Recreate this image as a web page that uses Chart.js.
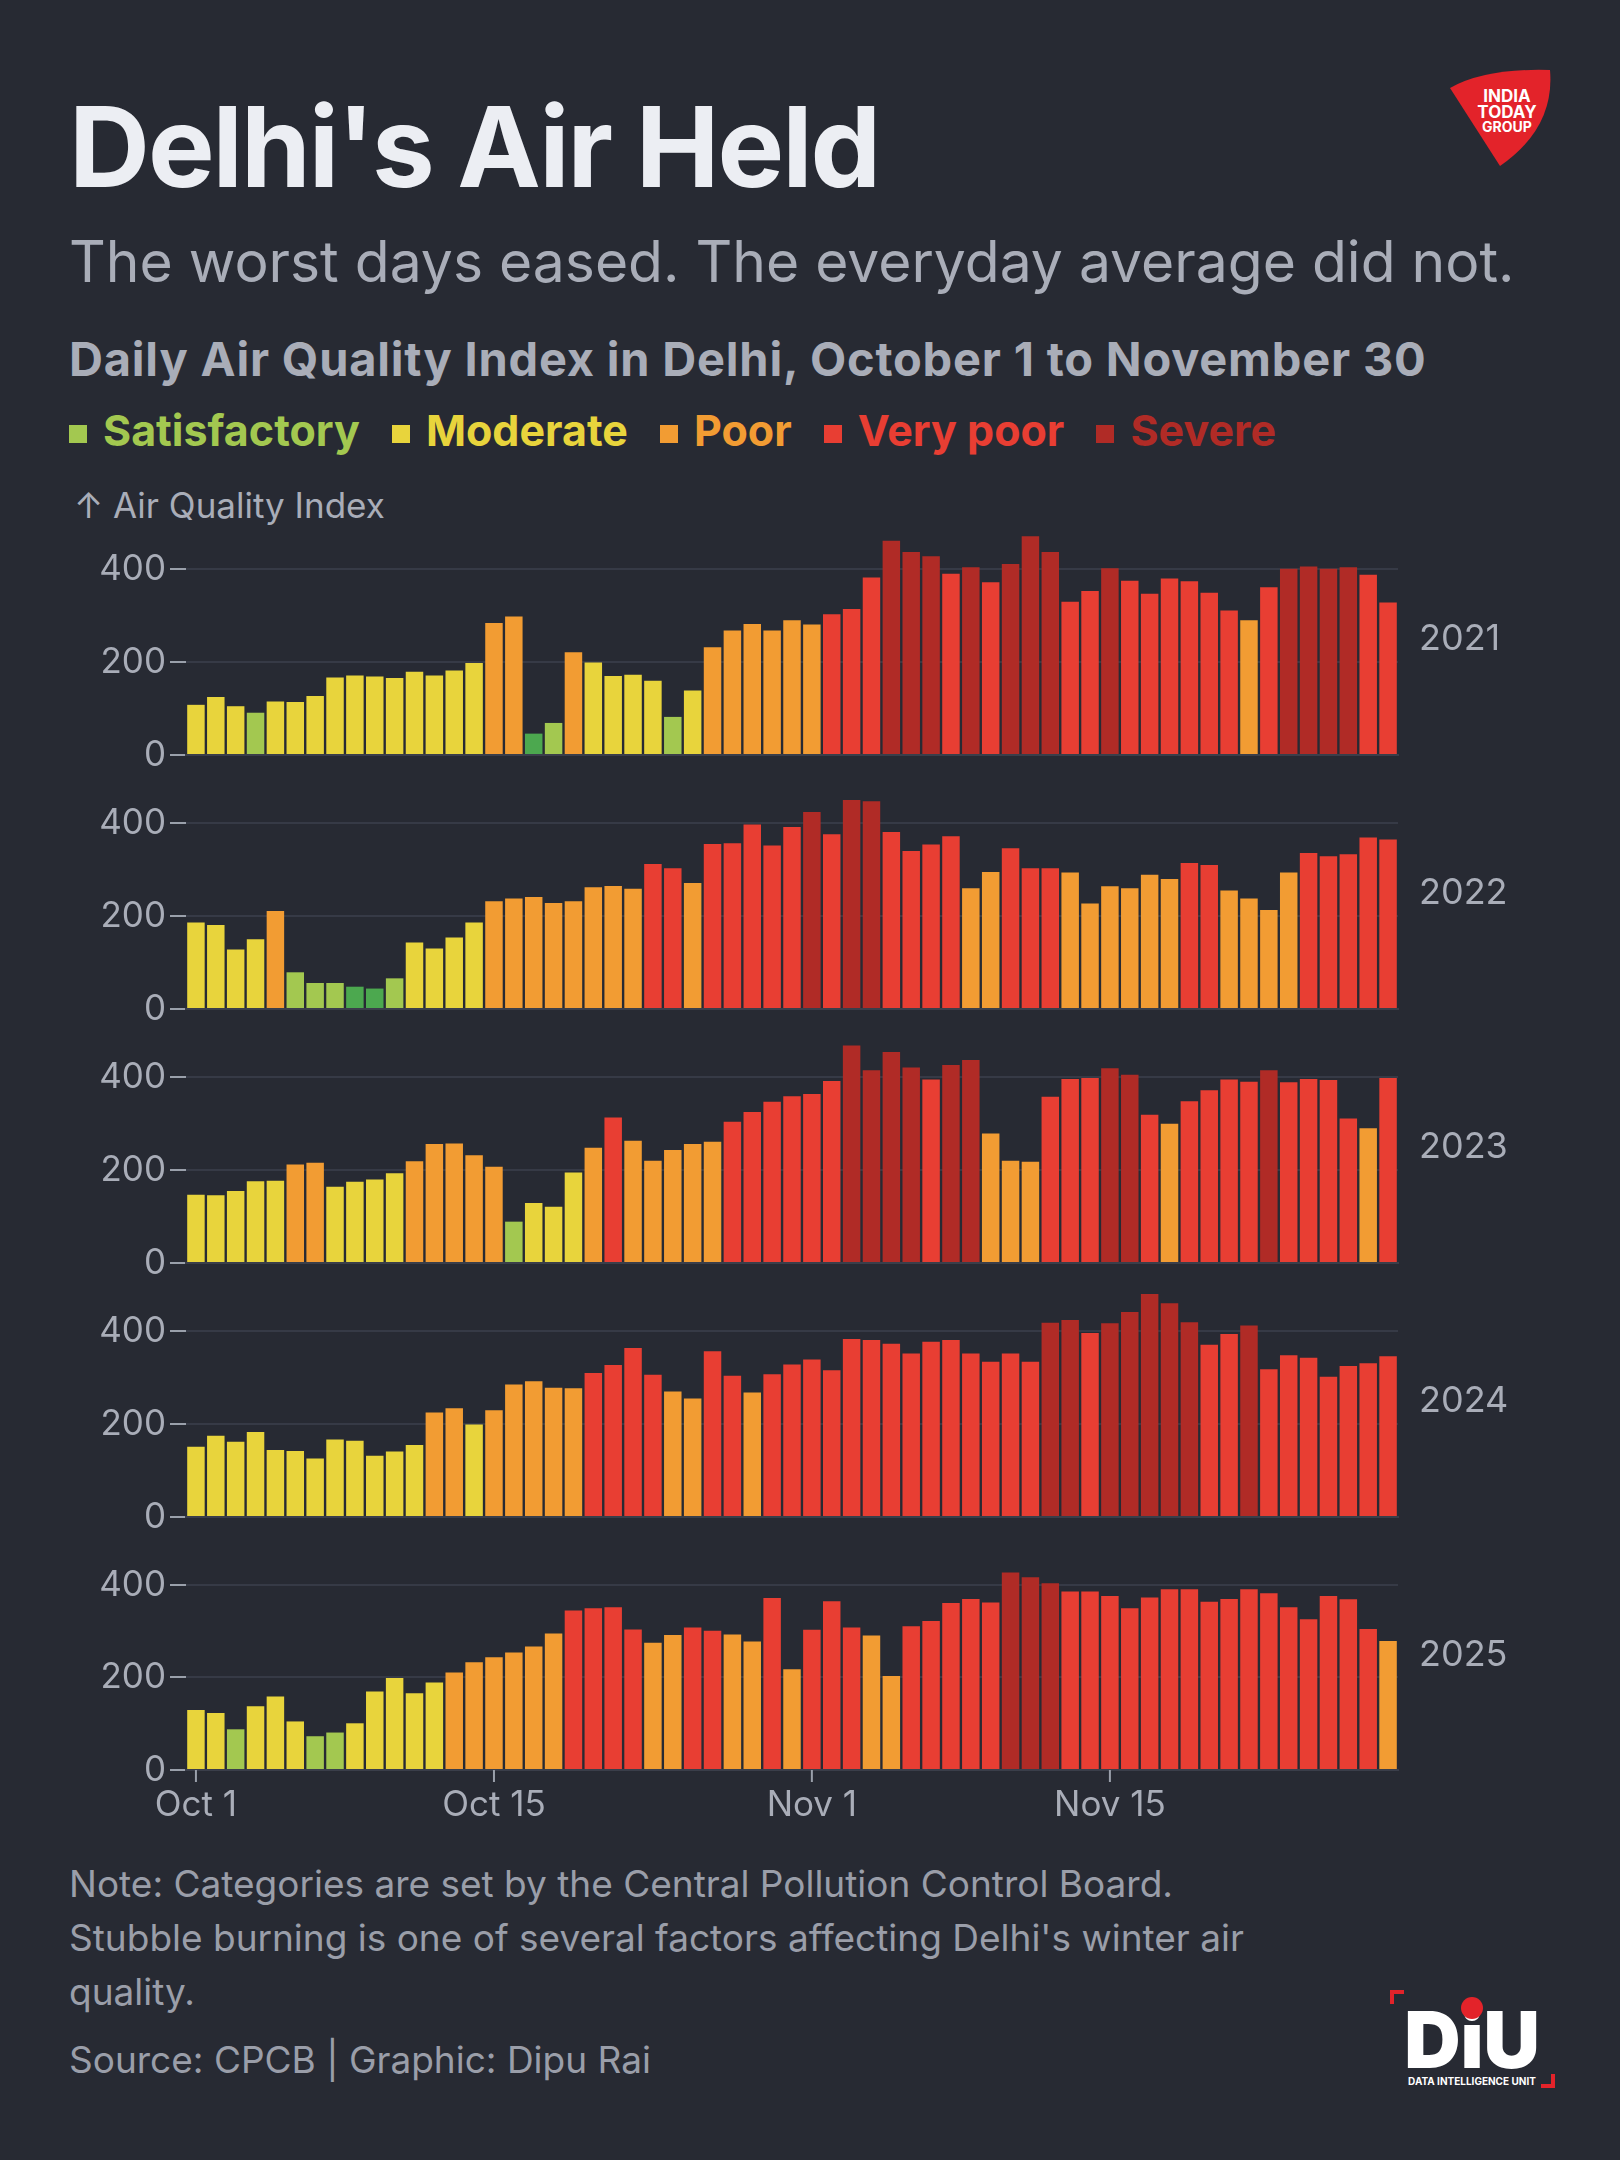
<!DOCTYPE html>
<html>
<head>
<meta charset="utf-8">
<script src="https://cdn.jsdelivr.net/npm/chart.js@4"></script>
<style>
  body { margin:0; background:#272a33; width:1620px; height:2160px; overflow:hidden; font-family:Inter, "Noto Sans", sans-serif; }
  .t { position:absolute; left:69px; white-space:nowrap; line-height:1; }
  .panel { position:absolute; left:0; width:1620px; }
  .year { position:absolute; left:1419px; color:#a9adb8; font-size:36px; line-height:1; }
</style>
</head>
<body>
<div class="t" style="top:90px;font-size:112px;font-weight:700;color:#eceef3;letter-spacing:-2px">Delhi's Air Held</div>
<div class="t" style="top:233px;font-size:57px;color:#a9adb8">The worst days eased. The everyday average did not.</div>
<div class="t" style="top:335px;font-size:47px;font-weight:700;color:#a9adb8;letter-spacing:0.8px">Daily Air Quality Index in Delhi, October 1 to November 30</div>
<div class="t" id="legend" style="top:409px;font-size:43px;font-weight:700"></div>
<div class="t" style="top:488px;left:74px;font-size:35px;color:#a9adb8">↑ Air Quality Index</div>
<div id="panels"></div>
<div class="t" style="top:1857px;font-size:37px;color:#9a9ea9;line-height:54px">Note: Categories are set by the Central Pollution Control Board.<br>Stubble burning is one of several factors affecting Delhi's winter air<br>quality.</div>
<div class="t" style="top:2041px;font-size:37px;color:#9a9ea9">Source: CPCB | Graphic: Dipu Rai</div>

<svg style="position:absolute;left:1445px;top:68px" width="110" height="100" viewBox="0 0 110 100">
  <path d="M5 20 Q40 0 105 2 Q110 60 55 98 Z" fill="#e3232a"/>
  <text x="62" y="34" fill="#fff" font-size="17" font-weight="700" text-anchor="middle" font-family="Inter">INDIA</text>
  <text x="62" y="50" fill="#fff" font-size="17" font-weight="700" text-anchor="middle" font-family="Inter">TODAY</text>
  <text x="62" y="64" fill="#fff" font-size="14" font-weight="700" text-anchor="middle" font-family="Inter">GROUP</text>
</svg>
<svg style="position:absolute;left:1390px;top:1990px" width="165" height="100" viewBox="0 0 165 100">
  <path d="M2 14 V2 H14 M151 96 H163 V84" stroke="#e3232a" stroke-width="4" fill="none"/>
  <text x="82" y="78" fill="#fff" font-size="78" font-weight="900" text-anchor="middle" font-family="Inter">DiU</text>
  <circle cx="82" cy="18" r="11" fill="#e3232a"/>
  <text x="82" y="95" fill="#fff" font-size="10" font-weight="700" text-anchor="middle" font-family="Inter">DATA INTELLIGENCE UNIT</text>
</svg>

<script>
const days = [];
for (let d = 1; d <= 31; d++) days.push('Oct ' + d);
for (let d = 1; d <= 30; d++) days.push('Nov ' + d);

const years = ['2021', '2022', '2023', '2024', '2025'];
const xTickLabels = ['Oct 1', 'Oct 15', 'Nov 1', 'Nov 15'];
const xTickIndex = [0, 15, 31, 46];
const yTicks = [0, 200, 400];

const aqi2021 = [108,125,105,91,115,114,127,167,171,169,166,179,171,182,198,284,298,46,69,221,199,170,173,160,82,139,232,268,282,268,290,281,303,314,382,461,437,428,390,404,372,411,471,437,330,353,402,375,347,380,374,349,311,290,361,401,406,401,404,388,328];
const aqi2022 = [186,181,128,150,211,79,56,56,48,44,66,143,130,154,186,232,238,241,228,232,262,265,259,312,303,271,355,357,397,352,392,424,376,450,447,381,340,354,372,260,295,346,303,303,294,227,264,260,289,280,314,310,255,238,213,294,336,329,333,369,365];
const aqi2023 = [147,146,155,176,177,212,216,164,175,180,193,219,256,257,232,207,89,129,121,195,248,313,263,220,243,256,261,304,325,347,359,364,392,468,415,454,421,395,426,437,279,220,218,358,396,398,419,405,319,300,348,372,395,390,415,389,396,394,311,290,398];
const aqi2024 = [151,175,162,183,144,142,126,167,164,132,141,155,225,234,199,230,285,292,278,277,310,327,364,306,270,255,357,304,268,307,328,339,316,383,381,373,352,377,381,352,334,352,334,418,424,396,417,441,494,460,419,371,394,412,318,348,343,302,325,331,346];
const aqi2025 = [130,123,88,138,159,105,73,81,101,170,199,166,189,211,233,244,254,267,295,345,350,352,304,275,292,308,301,293,278,372,218,303,365,308,291,203,311,322,361,370,362,427,417,404,386,386,376,350,373,391,391,364,370,391,382,352,326,376,369,305,279];
const series = [aqi2021, aqi2022, aqi2023, aqi2024, aqi2025];

const categories = ['Satisfactory', 'Moderate', 'Poor', 'Very poor', 'Severe'];
const catColors = ['#a3c850', '#e8d43c', '#f29c33', '#e83e33', '#b02b26'];
const goodColor = '#4ca84f';

function colorFor(v) {
  if (v <= 50) return goodColor;
  if (v <= 100) return catColors[0];
  if (v <= 200) return catColors[1];
  if (v <= 300) return catColors[2];
  if (v <= 400) return catColors[3];
  return catColors[4];
}

document.getElementById('legend').innerHTML = categories.map((c, i) =>
  `<span style="color:${catColors[i]};margin-right:32px"><span style="display:inline-block;width:18px;height:18px;background:${catColors[i]};margin-right:16px;vertical-align:3px"></span>${c}</span>`
).join('');

const zeros = [754, 1008, 1262, 1516, 1770];
const plotH = 222; // px for 0..480
const extraTop = 17;
const container = document.getElementById('panels');

series.forEach((vals, i) => {
  const last = i === series.length - 1;
  const axisH = last ? 62 : 2;
  const div = document.createElement('div');
  div.className = 'panel';
  div.style.top = (zeros[i] - plotH - 8 - extraTop) + 'px';
  div.style.height = (plotH + 8 + extraTop + (last ? axisH : 26)) + 'px';
  const canvas = document.createElement('canvas');
  div.appendChild(canvas);
  container.appendChild(div);
  const yl = document.createElement('div');
  yl.className = 'year';
  yl.textContent = years[i];
  yl.style.top = (zeros[i] - 135) + 'px';
  container.appendChild(yl);

  new Chart(canvas, {
    type: 'bar',
    data: {
      labels: days,
      datasets: [{
        data: vals,
        backgroundColor: vals.map(colorFor),
        borderWidth: 0,
        categoryPercentage: 0.88,
        barPercentage: 1
      }]
    },
    options: {
      responsive: true,
      maintainAspectRatio: false,
      animation: false,
      layout: { padding: { top: 8, right: 222, left: 0, bottom: 0 } },
      plugins: { legend: { display: false }, tooltip: { enabled: false } },
      scales: {
        x: {
          grid: { display: false, drawTicks: false },
          border: { display: true, color: '#3a3e4a', width: 2 },
          afterFit: s => { s.height = axisH; },
          ticks: {
            display: last,
            autoSkip: false,
            maxRotation: 0,
            color: '#a9adb8',
            font: { family: 'Inter', size: 35 },
            padding: 14,
            callback: function (v, idx) {
              const k = xTickIndex.indexOf(idx);
              return k >= 0 ? xTickLabels[k] : null;
            }
          }
        },
        y: {
          min: 0, max: 480,
          afterFit: s => { s.width = 186; },
          afterBuildTicks: s => { s.ticks = yTicks.map(v => ({ value: v })); },
          grid: { color: '#363a46', lineWidth: 2, tickLength: 16, tickColor: '#9aa0ab', tickWidth: 2 },
          border: { display: false },
          ticks: { color: '#a9adb8', font: { family: 'Inter', size: 35 }, padding: 4 }
        }
      }
    },
    plugins: last ? [{
      id: 'xticks',
      afterDraw(chart) {
        const ctx = chart.ctx, x = chart.scales.x, y0 = chart.chartArea.bottom;
        ctx.save();
        ctx.strokeStyle = '#9aa0ab';
        ctx.lineWidth = 2;
        xTickIndex.forEach(idx => {
          const px = x.getPixelForValue(idx);
          ctx.beginPath(); ctx.moveTo(px, y0); ctx.lineTo(px, y0 + 12); ctx.stroke();
        });
        ctx.restore();
      }
    }] : []
  });
});
</script>
</body>
</html>
